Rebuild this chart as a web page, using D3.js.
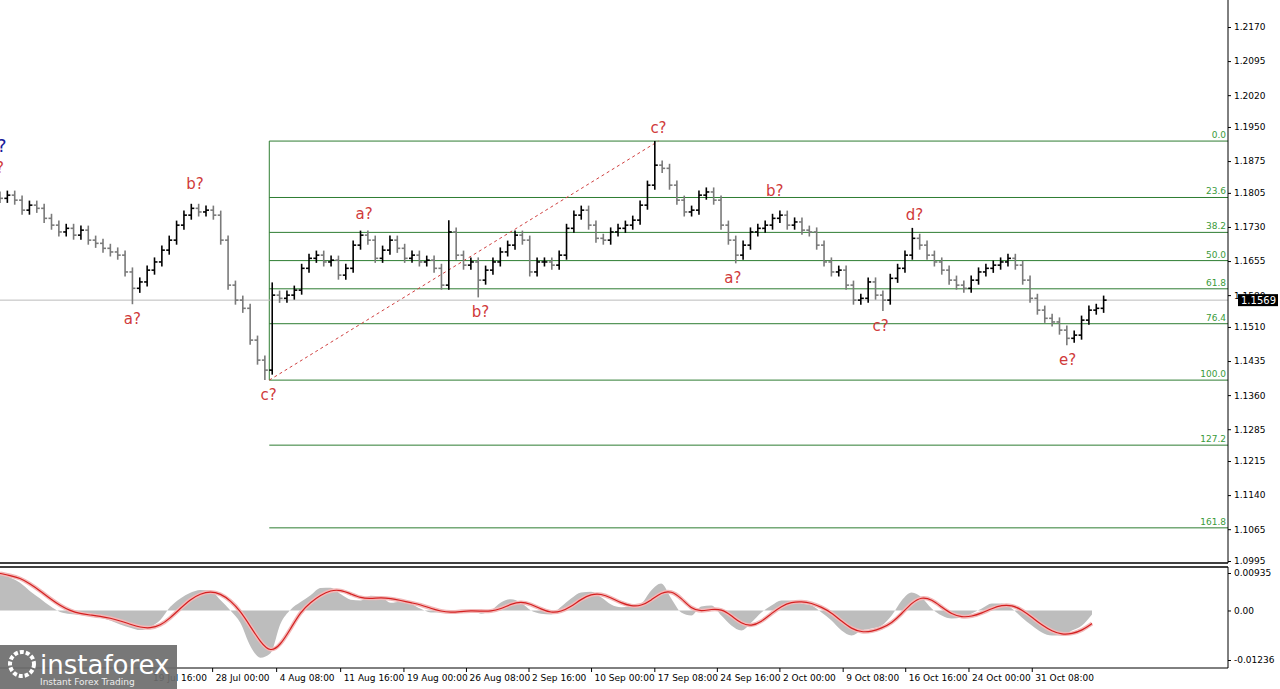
<!DOCTYPE html>
<html lang="en">
<head>
<meta charset="UTF-8">
<title>EURUSD H4</title>
<script src="https://cdn.jsdelivr.net/npm/d3@7"></script>
<style>
  body { margin: 0; background: #fff; }
  text { font-family: Tahoma, "DejaVu Sans", sans-serif; }
</style>
</head>
<body>
<script>
  // closes of each bar
  const closes = [
    1.1793, 1.1800, 1.1789, 1.1767, 1.1778, 1.1771, 1.1749, 1.1734, 1.1719, 1.1727,
    1.1712, 1.1723, 1.1701, 1.1694, 1.1683, 1.1675, 1.1668, 1.1631, 1.1595, 1.1609,
    1.1635, 1.1653, 1.1679, 1.1701, 1.1734, 1.1756, 1.1771, 1.1763, 1.1767, 1.1756,
    1.1701, 1.1602, 1.1569, 1.1551, 1.1481, 1.1437, 1.1415, 1.1580, 1.1573, 1.1580,
    1.1591, 1.1639, 1.1661, 1.1668, 1.1653, 1.1657, 1.1624, 1.1639, 1.1690, 1.1712,
    1.1701, 1.1661, 1.1679, 1.1701, 1.1683, 1.1661, 1.1668, 1.1653, 1.1657, 1.1639,
    1.1602, 1.1719, 1.1668, 1.1646, 1.1653, 1.1613, 1.1635, 1.1653, 1.1675, 1.1690,
    1.1712, 1.1701, 1.1631, 1.1653, 1.1653, 1.1646, 1.1668, 1.1727, 1.1756, 1.1767,
    1.1734, 1.1705, 1.1701, 1.1719, 1.1727, 1.1734, 1.1745, 1.1778, 1.1822, 1.1866,
    1.1859, 1.1822, 1.1789, 1.1763, 1.1767, 1.1800, 1.1807, 1.1789, 1.1734, 1.1701,
    1.1668, 1.1690, 1.1719, 1.1727, 1.1734, 1.1749, 1.1756, 1.1734, 1.1741, 1.1723,
    1.1719, 1.1690, 1.1653, 1.1631, 1.1635, 1.1602, 1.1569, 1.1573, 1.1609, 1.1580,
    1.1569, 1.1617, 1.1639, 1.1668, 1.1705, 1.1690, 1.1668, 1.1653, 1.1635, 1.1613,
    1.1602, 1.1595, 1.1613, 1.1631, 1.1639, 1.1646, 1.1653, 1.1661, 1.1646, 1.1613,
    1.1573, 1.1547, 1.1529, 1.1521, 1.1503, 1.1485, 1.1492, 1.1525, 1.1547, 1.1551,
    1.1569
  ];
  // spikes the bars reach beyond their bodies
  const spikeHighs = [[61, 1.1745], [89, 1.1919], [124, 1.1728], [37, 1.1608]];
  const spikeLows = [[36, 1.1393], [18, 1.1560], [65, 1.1575], [100, 1.1650], [120, 1.1545], [145, 1.1470]];

  // oscillator histogram at an even time step
  const oscValues = [
    0.00925, 0.0082, 0.0069, 0.0048, 0.0030, 0.0011, -0.0004, -0.0009, -0.0011, -0.0014,
    -0.0018, -0.0025, -0.0035, -0.0043, -0.0049, -0.0041, -0.0024, 0.0009, 0.0030, 0.0044,
    0.0051, 0.0049, 0.0026, 0.0000, -0.0031, -0.0089, -0.0118, -0.0107, -0.0033, 0.0002,
    0.0021, 0.0038, 0.0056, 0.0057, 0.0041, 0.0027, 0.0025, 0.0037, 0.0034, 0.0019,
    0.0022, 0.0017, 0.0004, -0.0005, -0.0005, -0.0005, 0.0002, 0.0001, -0.0008, 0.0000,
    0.0020, 0.0028, 0.0019, 0.0000, -0.0008, -0.0010, 0.0009, 0.0030, 0.0045, 0.0047,
    0.0033, 0.0015, 0.0008, 0.0009, 0.0017, 0.0050,
    0.00675, 0.003, -0.0005, -0.00125,
    0.001, 0.00125, -0.00125, -0.00375, -0.005, -0.003, -0.0005, 0.00125, 0.0025, 0.0025,
    0.00175, 0.00125, -0.0005, -0.0025, -0.005, -0.00625, -0.005, -0.0045, -0.00375, -0.00125,
    0.0025, 0.0045, 0.00325, 0.0005, -0.00125, -0.002, -0.00175, -0.00075, 0.0005, 0.00175,
    0.00175, 0.0005, -0.00175, -0.00375, -0.0055, -0.00625, -0.00625, -0.005, -0.00375, -0.001
  ];

  const priceTicks = [1.2170, 1.2095, 1.2020, 1.1950, 1.1875, 1.1805, 1.1730, 1.1655, 1.1580,
    1.1510, 1.1435, 1.1360, 1.1285, 1.1215, 1.1140, 1.1065, 1.0995];
  const fibHigh = 1.1919, fibLow = 1.1393;
  const fibLevels = [0, 23.6, 38.2, 50.0, 61.8, 76.4, 100.0, 127.2, 161.8];
  const fibLabels = ["0.0", "23.6", "38.2", "50.0", "61.8", "76.4", "100.0", "127.2", "161.8"];
  const timeTicks = [20.4, 28.9, 37.6, 46.3, 54.9, 63.4, 71.9, 80.4, 89.0, 97.5, 106.0, 114.6, 123.1, 131.7, 140.3];
  const timeLabels = ["19 Jul 16:00", "28 Jul 00:00", "4 Aug 08:00", "11 Aug 16:00", "19 Aug 00:00",
    "26 Aug 08:00", "2 Sep 16:00", "10 Sep 00:00", "17 Sep 08:00", "24 Sep 16:00", "2 Oct 00:00",
    "9 Oct 08:00", "16 Oct 16:00", "24 Oct 00:00", "31 Oct 08:00"];
  const waves = [
    {i: 89.5, p: 1.1919, t: "c?", up: true}, {i: 26.5, p: 1.1795, t: "b?", up: true},
    {i: 18, p: 1.1560, t: "a?", up: false}, {i: 36.5, p: 1.1393, t: "c?", up: false},
    {i: 49.5, p: 1.1730, t: "a?", up: true}, {i: 65.3, p: 1.1575, t: "b?", up: false},
    {i: 99.6, p: 1.1650, t: "a?", up: false}, {i: 105.3, p: 1.1780, t: "b?", up: true},
    {i: 124.3, p: 1.1728, t: "d?", up: true}, {i: 119.7, p: 1.1545, t: "c?", up: false},
    {i: 145.1, p: 1.1470, t: "e?", up: false}
  ];

  const W = 1280, H = 689, plotR = 1228, mainB = 563, indT = 567, indB = 668;
  const lastPrice = closes[closes.length - 1];

  const x = d3.scaleLinear().domain([0, 149.1]).range([0, 1097]);
  const y = d3.scaleLinear().domain([1.0995, 1.2170]).range([561, 27]);
  const xo = d3.scaleLinear().domain([0, oscValues.length - 1]).range([0, 1092]);
  const yi = d3.scaleLinear().domain([-0.01236, 0.00935]).range([660, 573]);

  const bars = closes.map((c, i) => {
    const o = i ? closes[i - 1] : c + 0.0005;
    let hi = Math.max(o, c) + 0.0010, lo = Math.min(o, c) - 0.0010;
    spikeHighs.forEach(([k, v]) => { if (k === i) hi = v; });
    spikeLows.forEach(([k, v]) => { if (k === i) lo = v; });
    return {i, o, c, hi, lo};
  });
  // signal line: short moving average of the histogram
  const signal = oscValues.map((_, i) => d3.mean(oscValues.slice(Math.max(0, i - 2), i + 1)));

  const svg = d3.select("body").append("svg").attr("width", W).attr("height", H);
  svg.append("rect").attr("width", W).attr("height", H).attr("fill", "#fff");

  // fib grid
  const fibG = svg.append("g");
  fibLevels.forEach((lv, k) => {
    const p = fibHigh - lv / 100 * (fibHigh - fibLow);
    fibG.append("line").attr("x1", x(36.6)).attr("x2", plotR).attr("y1", y(p)).attr("y2", y(p))
      .attr("stroke", "#2e7d32").attr("stroke-width", 1);
    fibG.append("text").attr("x", plotR - 2).attr("y", y(p) - 3).attr("text-anchor", "end")
      .attr("font-size", 9).attr("fill", "#3a9a3a").text(fibLabels[k]);
  });
  fibG.append("line").attr("x1", x(36.6)).attr("x2", x(36.6)).attr("y1", y(fibHigh)).attr("y2", y(fibLow))
    .attr("stroke", "#2e7d32");
  svg.append("line").attr("x1", x(36.6)).attr("y1", y(fibLow)).attr("x2", x(89.5)).attr("y2", y(fibHigh))
    .attr("stroke", "#d04040").attr("stroke-dasharray", "3,3").attr("stroke-width", 1);

  // current price line
  svg.append("line").attr("x1", 0).attr("x2", plotR).attr("y1", y(lastPrice)).attr("y2", y(lastPrice))
    .attr("stroke", "#bbb");

  // OHLC bars
  const bg = svg.append("g").selectAll("g").data(bars).join("g")
    .attr("stroke", d => d.c >= d.o ? "#000" : "#7a7a7a").attr("stroke-width", 1.6);
  bg.append("line").attr("x1", d => x(d.i)).attr("x2", d => x(d.i)).attr("y1", d => y(d.hi)).attr("y2", d => y(d.lo));
  bg.append("line").attr("x1", d => x(d.i) - 3).attr("x2", d => x(d.i)).attr("y1", d => y(d.o)).attr("y2", d => y(d.o));
  bg.append("line").attr("x1", d => x(d.i)).attr("x2", d => x(d.i) + 3).attr("y1", d => y(d.c)).attr("y2", d => y(d.c));

  // wave labels
  svg.append("g").selectAll("text").data(waves).join("text")
    .attr("x", d => x(d.i)).attr("y", d => d.up ? y(d.p) - 8 : y(d.p) + 20)
    .attr("text-anchor", "middle").attr("font-size", 15).attr("fill", "#d03a3a").text(d => d.t);
  svg.append("text").attr("x", -3).attr("y", 152).attr("font-size", 18).attr("fill", "#1a1a9a").text("?");
  svg.append("text").attr("x", -4).attr("y", 173).attr("font-size", 15).attr("fill", "#d03a3a").text("?");

  // price axis
  svg.append("g").attr("transform", `translate(${plotR},0)`)
    .call(d3.axisRight(y).tickValues(priceTicks).tickFormat(d3.format(".4f")).tickSize(3))
    .call(g => g.select(".domain").attr("d", `M0,0V${mainB}`))
    .selectAll("text").attr("font-size", 9).attr("fill", "#000").attr("font-family", "Tahoma, DejaVu Sans, sans-serif");
  svg.append("rect").attr("x", plotR + 10).attr("y", y(lastPrice) - 6).attr("width", 40).attr("height", 12).attr("fill", "#000");
  svg.append("text").attr("x", plotR + 13).attr("y", y(lastPrice) + 4).attr("font-size", 10).attr("fill", "#fff")
    .text(lastPrice.toFixed(4));

  // panel separators
  [mainB, indT].forEach(v => svg.append("line").attr("x1", 0).attr("x2", plotR).attr("y1", v).attr("y2", v)
    .attr("stroke", "#000").attr("stroke-width", 1.3));
  svg.append("line").attr("x1", plotR).attr("x2", plotR).attr("y1", indT).attr("y2", indB).attr("stroke", "#000");
  svg.append("line").attr("x1", 0).attr("x2", plotR).attr("y1", indB).attr("y2", indB).attr("stroke", "#000");

  // oscillator
  svg.append("path").datum(oscValues).attr("fill", "#bdbdbd")
    .attr("d", d3.area().x((d, i) => xo(i)).y0(yi(0)).y1(d => yi(d)).curve(d3.curveMonotoneX));
  svg.append("path").datum(signal).attr("fill", "none").attr("stroke", "#f2b8b8").attr("stroke-width", 4)
    .attr("d", d3.line().x((d, i) => xo(i)).y(d => yi(d)).curve(d3.curveBasis));
  svg.append("path").datum(signal).attr("fill", "none").attr("stroke", "#d42020").attr("stroke-width", 1.2)
    .attr("d", d3.line().x((d, i) => xo(i)).y(d => yi(d)).curve(d3.curveBasis));
  svg.append("g").attr("transform", `translate(${plotR},0)`)
    .call(d3.axisRight(yi).tickValues([0.00935, 0, -0.01236]).tickFormat(d => d === 0 ? "0.00" : d.toFixed(5)).tickSize(3))
    .call(g => g.select(".domain").remove())
    .selectAll("text").attr("font-size", 9).attr("fill", "#000").attr("font-family", "Tahoma, DejaVu Sans, sans-serif");

  // time axis
  const tg = svg.append("g").selectAll("g").data(timeTicks).join("g");
  tg.append("line").attr("x1", d => x(d)).attr("x2", d => x(d)).attr("y1", indB).attr("y2", indB + 4).attr("stroke", "#000");
  tg.append("text").attr("x", d => x(d) + 3).attr("y", indB + 13).attr("font-size", 9).text((d, k) => timeLabels[k]);

  // logo
  svg.append("rect").attr("x", 0).attr("y", 645).attr("width", 177).attr("height", 44).attr("fill", "#6d6d6d").attr("opacity", 0.92);
  svg.append("circle").attr("cx", 22).attr("cy", 664).attr("r", 12).attr("fill", "none").attr("stroke", "#fff").attr("stroke-width", 4).attr("stroke-dasharray", "4,2");
  svg.append("text").attr("x", 40).attr("y", 674).attr("font-size", 26).attr("fill", "#fff").attr("font-family", "Arial, Liberation Sans, sans-serif").text("instaforex");
  svg.append("text").attr("x", 40).attr("y", 685).attr("font-size", 9).attr("fill", "#eee").text("Instant Forex Trading");
</script>
</body>
</html>
